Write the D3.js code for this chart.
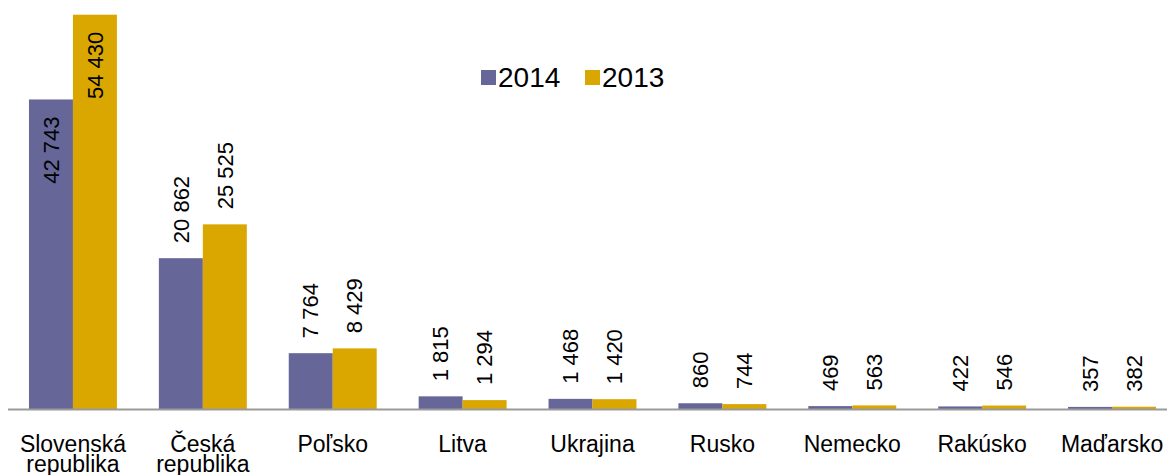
<!DOCTYPE html>
<html lang="sk">
<head>
<meta charset="UTF-8">
<title>2014 / 2013</title>
<script src="https://d3js.org/d3.v7.min.js"></script>
<style>
  html, body { margin: 0; padding: 0; background: #fff; }
  svg { display: block; }
  text { font-family: "Liberation Sans", Arial, sans-serif; fill: #000; }
</style>
</head>
<body>
<svg width="1167" height="475"></svg>
<script>
// data
const categories = [
  ["Slovenská", "republika"], ["Česká", "republika"], ["Poľsko"], ["Litva"], ["Ukrajina"],
  ["Rusko"], ["Nemecko"], ["Rakúsko"], ["Maďarsko"]
];
const seriesNames = ["2014", "2013"];
const values2014 = [42743, 20862, 7764, 1815, 1468, 860, 469, 422, 357];
const values2013 = [54430, 25525, 8429, 1294, 1420, 744, 563, 546, 382];
const colors = ["#666699", "#DAA600"];

const svg = d3.select("svg");
const width = +svg.attr("width");

// layout
const left = 8, right = 1177;   // posledna kategoria presahuje okraj
const baseY = 409.5, topY = 14.7;
const insideLimit = 40000;      // nad tymto su popisky vo vnutri stlpca

const keys = categories.map(c => c.join(" "));
const x0 = d3.scaleBand().domain(keys).range([left, right]).paddingInner(0.323).paddingOuter(0.1615);
const x1 = d3.scaleBand().domain(seriesNames).range([0, x0.bandwidth()]);
const y = d3.scaleLinear().domain([0, d3.max(values2013)]).range([baseY, topY]);

const fmt = d3.formatLocale({ thousands: " ", grouping: [3], decimal: ",", currency: ["", ""] }).format(",d");

const rows = keys.map((k, i) => ({
  key: k,
  vals: [
    { s: "2014", v: values2014[i], c: colors[0] },
    { s: "2013", v: values2013[i], c: colors[1] }
  ]
}));

const g = svg.selectAll("g.cat")
  .data(rows)
  .enter()
  .append("g")
  .attr("class", "cat")
  .attr("transform", d => `translate(${x0(d.key)},0)`);

// stlpce
g.selectAll("rect")
  .data(d => d.vals)
  .enter()
  .append("rect")
  .attr("x", d => x1(d.s))
  .attr("y", d => y(d.v))
  .attr("width", x1.bandwidth())
  .attr("height", d => baseY - y(d.v))
  .attr("fill", d => d.c);

// os x
svg.append("line")
  .attr("x1", left).attr("x2", width)
  .attr("y1", baseY).attr("y2", baseY)
  .style("stroke", "#9a9a9a")
  .style("stroke-width", 2);

// popisky hodnot
g.selectAll("text.val")
  .data(d => d.vals)
  .enter()
  .append("text")
  .attr("class", "val")
  .attr("transform", d => {
    const cx = x1(d.s) + x1.bandwidth() / 2;
    const inside = d.v > insideLimit;
    const yy = inside ? y(d.v) + 17 : y(d.v) - 15;
    return `translate(${cx},${yy}) rotate(-90)`;
  })
  .attr("text-anchor", d => d.v > insideLimit ? "end" : "start")
  .attr("dy", "0.35em")
  .style("font-size", "22px")
  .text(d => fmt(d.v));

// nazvy kategorii
const lab = svg.selectAll("text.cat")
  .data(categories)
  .enter()
  .append("text")
  .attr("class", "cat")
  .attr("x", (d, i) => x0(keys[i]) + x0.bandwidth() / 2)
  .attr("y", 452)
  .attr("text-anchor", "middle")
  .style("font-size", "23px");

lab.selectAll("tspan")
  .data(d => d)
  .enter()
  .append("tspan")
  .attr("x", function () { return this.parentNode.getAttribute("x"); })
  .attr("dy", (d, i) => i === 0 ? 0 : 20)
  .text(d => d);

// legenda
const leg = svg.append("g").attr("transform", "translate(481,0)");
const legX = [0, 104];
seriesNames.forEach((s, i) => {
  leg.append("rect")
    .attr("x", legX[i]).attr("y", 70)
    .attr("width", 15).attr("height", 15)
    .attr("fill", colors[i]);
  leg.append("text")
    .attr("x", legX[i] + 17).attr("y", 87)
    .style("font-size", "28px")
    .text(s);
});
</script>
</body>
</html>
